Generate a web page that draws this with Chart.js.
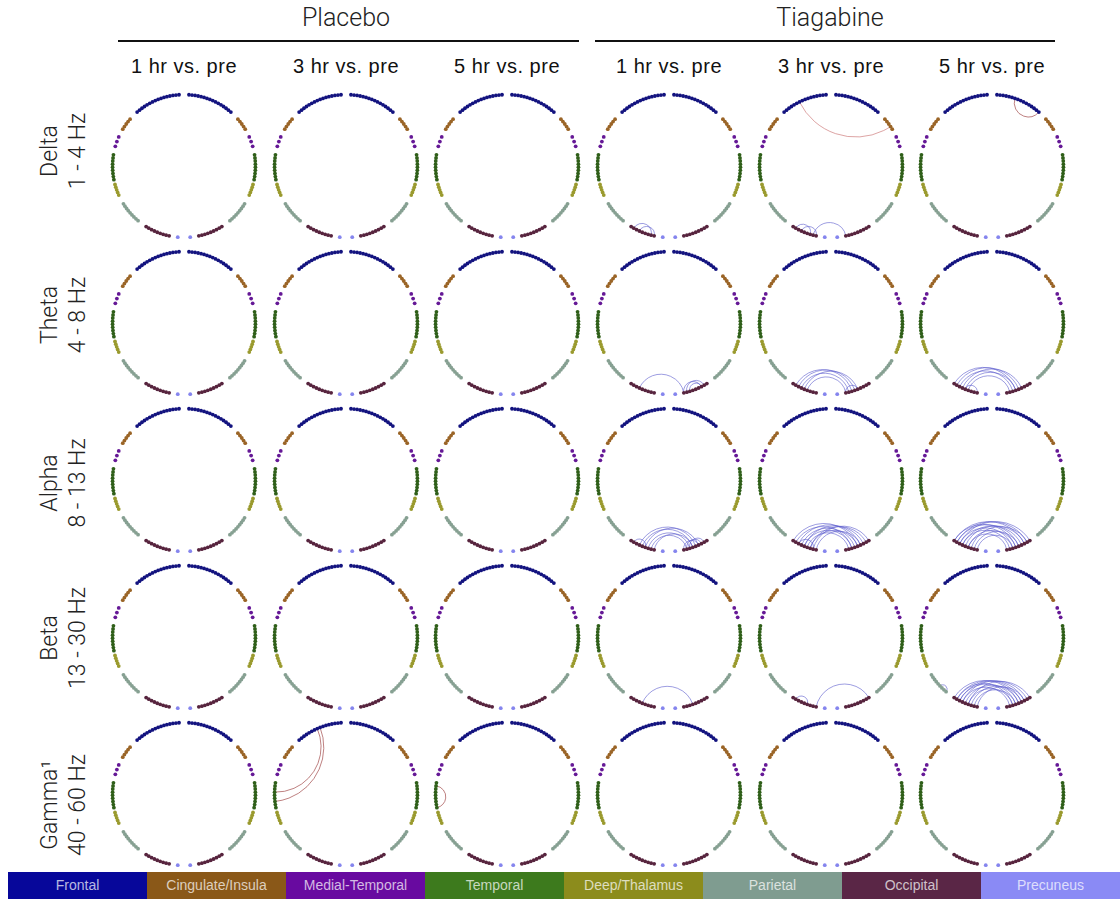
<!DOCTYPE html>
<html>
<head>
<meta charset="utf-8">
<script src="https://cdn.jsdelivr.net/npm/chart.js@4/dist/chart.umd.min.js"></script>
<style>
body{margin:0;background:#fff;width:1120px;height:899px;overflow:hidden;position:relative;font-family:"Liberation Sans",Arial,sans-serif;}
.grp{position:absolute;top:3px;font-family:Roboto,sans-serif;font-weight:300;font-size:25px;color:#222;transform:translateX(-50%);white-space:nowrap;}
.rule{position:absolute;top:40px;height:2px;background:#111;}
.col{position:absolute;top:55px;font-size:20px;letter-spacing:0.5px;color:#111;transform:translateX(-50%);white-space:nowrap;}
.row{position:absolute;font-family:Roboto,sans-serif;font-weight:300;font-size:23px;color:#222;text-align:center;line-height:28px;transform:translate(-50%,-50%) rotate(-90deg);white-space:nowrap;}
canvas{position:absolute;}
#legend{position:absolute;left:8px;top:872px;width:1112px;height:27px;display:flex;}
#legend div{flex:1;color:rgba(255,255,255,.72);font-size:14px;line-height:27px;text-align:center;white-space:nowrap;}
</style>
</head>
<body>
<div id="root"></div>
<div id="legend"></div>
<script>
// regions, node counts per hemisphere
var regionNames = ['Frontal','Cingulate/Insula','Medial-Temporal','Temporal','Deep/Thalamus','Parietal','Occipital','Precuneus'];
var regionCodes = ['F','C','M','T','D','P','O','Q'];
var nodesPerHemi = [16,5,3,9,5,9,9,1];

var groupLabels = ['Placebo','Tiagabine'];
var colLabels = ['1 hr vs. pre','3 hr vs. pre','5 hr vs. pre','1 hr vs. pre','3 hr vs. pre','5 hr vs. pre'];
var bandNames = ['Delta','Theta','Alpha','Beta','Gamma\u00b9'];
var bandRanges = ['1 - 4 Hz','4 - 8 Hz','8 - 13 Hz','13 - 30 Hz','40 - 60 Hz'];

// significant edges per panel: [node, node, direction]
var none = [];
var deltaTiag1 = [['LO1','LO7','up'],['LO3','LO8','up']];
var deltaTiag3 = [['LF9','RC3','downWeak'],['LO1','LO6','up'],['LO3','LO8','up'],['LO7','RO8','up']];
var deltaTiag5 = [['RF6','RF15','down']];
var thetaTiag1 = [['LO3','RO8','up'],['RO8','RO2','up'],['RO7','RO1','up'],['RO6','RO2','up']];
var thetaTiag3 = [['LO1','RO6','up'],['LO2','RO5','up'],['LO3','RO7','up'],['LO4','RO4','up'],['LO5','RO8','up'],['RO8','RO4','up']];
var thetaTiag5 = [['LO0','RO5','up'],['LO1','RO4','up'],['LO2','RO6','up'],['LO3','RO3','up'],['LO5','RO7','up'],['LO4','RO5','up'],['LO8','LO4','up']];
var alphaTiag1 = [['LO1','LO5','up'],['LO3','RO4','up'],['LO4','RO5','up'],['LO5','RO3','up'],['LO6','RO6','up'],['LO7','RO7','up'],['LO8','RO5','up'],['RO8','RO3','up'],['RO7','RO2','up'],['RO6','RO1','up']];
var alphaTiag3 = [['LO0','RO4','up'],['LO1','RO6','up'],['LO2','RO3','up'],['LO3','RO5','up'],['LO4','RO2','up'],['LO5','RO7','up'],['LO6','RO1','up'],['LO6','RO4','up'],['LO7','RO0','up'],['LO8','RO3','up'],['LO4','RO6','up'],['LO2','LO7','up']];
var alphaTiag5 = [['LO0','RO2','up'],['LO0','RO5','up'],['LO1','RO1','up'],['LO1','RO4','up'],['LO2','RO0','up'],['LO2','RO6','up'],['LO3','RO3','up'],['LO3','RO7','up'],['LO4','RO2','up'],['LO5','RO5','up'],['LO5','RO8','up'],['LO6','RO1','up'],['LO7','RO4','up'],['LO8','RO6','up']];
var betaTiag1 = [['LO4','RO5','up']];
var betaTiag3 = [['LO1','LO5','up'],['LO8','RO0','up']];
var betaTiag5 = [['LP5','LP8','up'],['LO0','RO4','up'],['LO1','RO3','up'],['LO1','RO6','up'],['LO2','RO2','up'],['LO2','RO5','up'],['LO3','RO1','up'],['LO3','RO7','up'],['LO4','RO4','up'],['LO5','RO0','up'],['LO5','RO6','up'],['LO6','RO3','up'],['LO7','RO5','up'],['LO8','RO2','up']];
var gammaPlac3 = [['LF8','LT3','down'],['LF7','LT6','down']];
var gammaPlac5 = [['LT1','LT8','down']];

var panelEdges = [
	[none, none, none, deltaTiag1, deltaTiag3, deltaTiag5],
	[none, none, none, thetaTiag1, thetaTiag3, thetaTiag5],
	[none, none, none, alphaTiag1, alphaTiag3, alphaTiag5],
	[none, none, none, betaTiag1, betaTiag3, betaTiag5],
	[none, gammaPlac3, gammaPlac5, none, none, none]
];

// ---- layout / style ----
var nodeColors = ['#13137f','#9a6426','#651896','#2f5f19','#9a9a2e','#86a092','#57243e','#8585ee'];
var legendColors = ['#07079a','#8a5818','#680aa0','#3d7a1d','#8c8c1c','#7f9c90','#5a2646','#8a8af5'];
var regionArcs = [[4,41],[49,59],[66,74],[81,101],[105,114],[122,140],[148,168],[175,175]]; // deg from top
var edgeStyle = {
	up:{color:'rgba(90,90,205,0.75)',width:0.8},
	down:{color:'rgba(165,80,80,0.8)',width:0.9},
	downWeak:{color:'rgba(205,120,120,0.75)',width:0.9}
};
var colX = [184,346,507,669,831,992];
var rowY = [166,323,480,637,794];
var labelY = [151,315,483,638,805];
var SIZE = 168, LIM = 1.12;

var nodePos = {}, nodePts = [], nodeCols = [];
['L','R'].forEach(function(h){
	var sgn = h=='L' ? -1 : 1;
	regionCodes.forEach(function(code, r){
		var n = nodesPerHemi[r], a0 = regionArcs[r][0], a1 = regionArcs[r][1];
		for(var i=0;i<n;i++){
			var a = (n==1 ? a0 : a0 + (a1-a0)*i/(n-1)) * Math.PI/180;
			var p = {x: sgn*Math.sin(a), y: Math.cos(a)};
			nodePos[h+code+i] = p;
			nodePts.push(p);
			nodeCols.push(nodeColors[r]);
		}
	});
});

var edgePlugin = {
	id:'circEdges',
	beforeDatasetsDraw: function(chart, args, opts){
		var xs = chart.scales.x, ys = chart.scales.y, ctx = chart.ctx;
		var ox = xs.getPixelForValue(0), oy = ys.getPixelForValue(0);
		var R = xs.getPixelForValue(1) - ox;
		(opts.edges||[]).forEach(function(e){
			var a = nodePos[e[0]], b = nodePos[e[1]], st = edgeStyle[e[2]];
			var x1 = xs.getPixelForValue(a.x), y1 = ys.getPixelForValue(a.y);
			var x2 = xs.getPixelForValue(b.x), y2 = ys.getPixelForValue(b.y);
			var t1 = Math.atan2(y1-oy, x1-ox), t2 = Math.atan2(y2-oy, x2-ox);
			var d = t2 - t1;
			while(d > Math.PI) d -= 2*Math.PI;
			while(d < -Math.PI) d += 2*Math.PI;
			var half = Math.abs(d)/2, mid = t1 + d/2;
			ctx.save();
			ctx.strokeStyle = st.color;
			ctx.lineWidth = st.width;
			ctx.beginPath();
			if(half > 1.55){
				ctx.moveTo(x1,y1); ctx.lineTo(x2,y2);
			}else{
				// arc orthogonal to the ring
				var dc = R/Math.cos(half), r = R*Math.tan(half);
				var cx = ox + dc*Math.cos(mid), cy = oy + dc*Math.sin(mid);
				var s = Math.atan2(y1-cy, x1-cx), en = Math.atan2(y2-cy, x2-cx);
				var sw = en - s;
				while(sw > Math.PI) sw -= 2*Math.PI;
				while(sw < -Math.PI) sw += 2*Math.PI;
				ctx.arc(cx, cy, r, s, s+sw, sw < 0);
			}
			ctx.stroke();
			ctx.restore();
		});
	}
};

var root = document.getElementById('root');
function addDiv(cls, html, css){
	var d = document.createElement('div');
	d.className = cls; d.innerHTML = html;
	for(var k in css) d.style[k] = css[k];
	root.appendChild(d);
	return d;
}

// headers
addDiv('grp', groupLabels[0], {left:'346px'});
addDiv('grp', groupLabels[1], {left:'830px'});
addDiv('rule', '', {left:'118px', width:'461px'});
addDiv('rule', '', {left:'595px', width:'460px'});
colLabels.forEach(function(t, c){ addDiv('col', t, {left:colX[c]+'px'}); });
bandNames.forEach(function(t, r){ addDiv('row', t+'<br>'+bandRanges[r], {left:'64px', top:labelY[r]+'px'}); });

// legend bar
var lg = document.getElementById('legend');
regionNames.forEach(function(t, r){
	var d = document.createElement('div');
	d.textContent = t; d.style.background = legendColors[r];
	lg.appendChild(d);
});

// panels
for(var r=0;r<rowY.length;r++){
	for(var c=0;c<colX.length;c++){
		var cv = document.createElement('canvas');
		cv.width = SIZE; cv.height = SIZE;
		cv.style.left = (colX[c]-SIZE/2)+'px';
		cv.style.top = (rowY[r]-SIZE/2)+'px';
		root.appendChild(cv);
		new Chart(cv.getContext('2d'), {
			type:'scatter',
			data:{datasets:[{data:nodePts, pointBackgroundColor:nodeCols, pointBorderColor:nodeCols, pointRadius:1.9, pointBorderWidth:0}]},
			options:{
				responsive:false, animation:false, events:[],
				layout:{padding:0},
				plugins:{legend:{display:false}, tooltip:{enabled:false}, circEdges:{edges:panelEdges[r][c]}},
				scales:{
					x:{type:'linear', min:-LIM, max:LIM, display:false},
					y:{type:'linear', min:-LIM, max:LIM, display:false}
				}
			},
			plugins:[edgePlugin]
		});
	}
}
</script>
</body>
</html>
